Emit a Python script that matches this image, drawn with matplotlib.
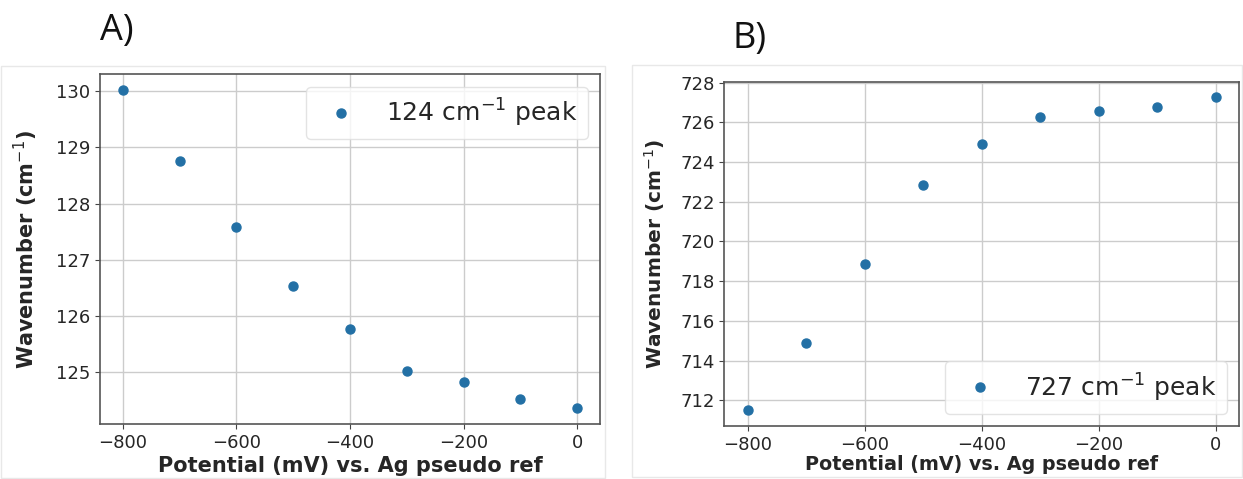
import matplotlib
matplotlib.use("Agg")
import matplotlib.pyplot as plt
from matplotlib.patches import Rectangle

potential = [-800, -700, -600, -500, -400, -300, -200, -100, 0]
peak124 = [130.02, 128.75, 127.58, 126.53, 125.77, 125.03, 124.82, 124.52, 124.36]
peak727 = [711.49, 714.87, 718.88, 722.83, 724.93, 726.25, 726.55, 726.79, 727.26]
label_a = "124 cm$^{-1}$ peak"
label_b = "727 cm$^{-1}$ peak"
xlabel = "Potential (mV) vs. Ag pseudo ref"
ylabel = "Wavenumber (cm$^{-1}$)"
xticks = [-800, -600, -400, -200, 0]
yticks_a = [125, 126, 127, 128, 129, 130]
yticks_b = [712, 714, 716, 718, 720, 722, 724, 726, 728]

W, H = 1243, 479
fig = plt.figure(figsize=(W / 100, H / 100), dpi=100)

def fx(px):
    return px / W

def fy(py):
    return 1 - py / H

# faint borders of the two source images
fig.add_artist(Rectangle((fx(1), fy(478)), fx(604), fy(66) - fy(478), transform=fig.transFigure,
                         fill=False, edgecolor="#e8e8e8", lw=1))
fig.add_artist(Rectangle((fx(632), fy(477)), fx(610), fy(65) - fy(477), transform=fig.transFigure,
                         fill=False, edgecolor="#e8e8e8", lw=1))

ax1 = fig.add_axes([fx(100), fy(424.3), fx(600 - 100), fy(74) - fy(424.3)])
ax2 = fig.add_axes([fx(724.3), fy(426), fx(1239 - 724.3), fy(81.7) - fy(426)])

text_col = "#262626"
for ax, vals, lab, yt, loc in [(ax1, peak124, label_a, yticks_a, "upper right"),
                               (ax2, peak727, label_b, yticks_b, "lower right")]:
    ax.plot(potential, vals, "o", color="#2370a5", markersize=6.5, label=lab)
    ax.set_xticks(xticks)
    ax.set_yticks(yt)
    ax.grid(True, color="#cccccc", lw=1.0)
    ax.set_axisbelow(True)
    ax.tick_params(labelsize=13, colors="#444444", labelcolor=text_col)
    for s in ax.spines.values():
        s.set_color("#555555")
        s.set_linewidth(1.2)
    leg = ax.legend(loc=loc, fontsize=18)
    leg.get_frame().set_edgecolor("#dddddd")
    for t in leg.get_texts():
        t.set_color(text_col)

ax1.set_ylabel(ylabel, fontsize=15, fontweight="bold", color=text_col)
ax2.set_ylabel(ylabel, fontsize=14.5, fontweight="bold", color=text_col)
ax1.set_xlabel(xlabel, fontsize=15, fontweight="bold", color=text_col)
ax2.set_xlabel(xlabel, fontsize=13.8, fontweight="bold", color=text_col)
ax1.yaxis.set_label_coords(-0.12, 0.5)
ax2.yaxis.set_label_coords(-0.111, 0.5)
ax1.xaxis.set_label_coords(0.5, -0.09)
ax2.xaxis.set_label_coords(0.5, -0.084)

fig.text(fx(100), fy(31), "A)", fontsize=26, family="Open Sans", va="center", ha="left", color="#111111")
fig.text(fx(733), fy(39), "B)", fontsize=26, family="Open Sans", va="center", ha="left", color="#111111")

fig.savefig("out.png", dpi=100)
